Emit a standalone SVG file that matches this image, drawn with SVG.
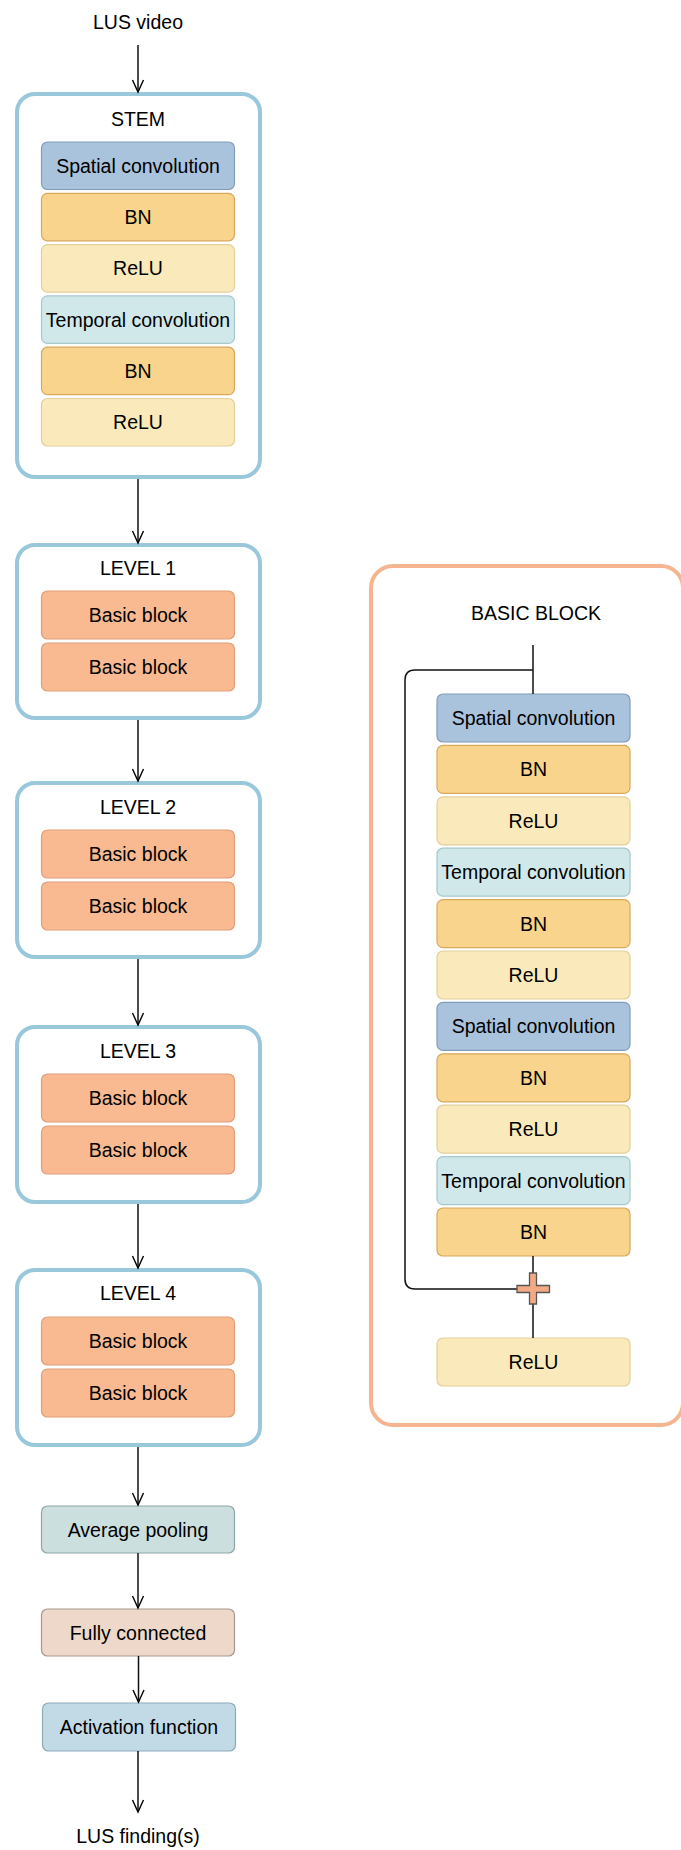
<svg xmlns="http://www.w3.org/2000/svg" width="681" height="1850" viewBox="0 0 681 1850">
  <defs>
    <marker id="arrow" viewBox="-14 -8 16 16" refX="0" refY="0" markerWidth="16" markerHeight="16" markerUnits="userSpaceOnUse" orient="auto">
      <path d="M-12,-5.5 L0,0 L-12,5.5" fill="none" stroke="#000" stroke-width="1.4"/>
    </marker>
    <style>
      text { font-family: "Liberation Sans", Arial, sans-serif; font-size: 19.5px; fill: #000; text-anchor: middle; }
      .stage { fill: #fff; stroke: #9ac8db; stroke-width: 4; }
      .detail { fill: #fff; stroke: #f4b590; stroke-width: 4; }
      .box { stroke-width: 1.2; }
      .spatial { fill: #aac3dd; stroke: #829dba; }
      .bn { fill: #f9d48c; stroke: #d9a85a; }
      .relu { fill: #faeabb; stroke: #e2d09a; }
      .temporal { fill: #d1e8ea; stroke: #a6c7cb; }
      .basic { fill: #f9ba91; stroke: #e09f7a; }
      .pool { fill: #cbdfdf; stroke: #8fa6a6; }
      .fc { fill: #edd8c9; stroke: #a8978b; }
      .act { fill: #c1dae6; stroke: #8eaab9; }
      .wire { fill: none; stroke: #111; stroke-width: 1.5; }
      .plus { fill: #f2aa85; stroke: #555; stroke-width: 1.3; }
    </style>
  </defs>

  <!-- input / output labels -->
  <text id="input-label" x="138" y="29">LUS video</text>
  <text id="output-label" x="138" y="1843">LUS finding(s)</text>

  <!-- stem -->
  <g id="stem">
    <rect class="stage" x="17" y="94" width="243" height="383" rx="18"/>
    <text x="138" y="125.5">STEM</text>
    <rect class="box spatial" x="41.5" y="142" width="193" height="47.5" rx="6"/>
    <text x="138" y="172.5">Spatial convolution</text>
    <rect class="box bn" x="41.5" y="193.3" width="193" height="47.5" rx="6"/>
    <text x="138" y="224">BN</text>
    <rect class="box relu" x="41.5" y="244.6" width="193" height="47.5" rx="6"/>
    <text x="138" y="275.3">ReLU</text>
    <rect class="box temporal" x="41.5" y="295.9" width="193" height="47.5" rx="6"/>
    <text x="138" y="326.5">Temporal convolution</text>
    <rect class="box bn" x="41.5" y="347.2" width="193" height="47.5" rx="6"/>
    <text x="138" y="377.9">BN</text>
    <rect class="box relu" x="41.5" y="398.5" width="193" height="47.5" rx="6"/>
    <text x="138" y="429.2">ReLU</text>
  </g>

  <!-- residual levels -->
  <g id="level1">
    <rect class="stage" x="17" y="545" width="243" height="173" rx="18"/>
    <text x="138" y="575">LEVEL 1</text>
    <rect class="box basic" x="41.5" y="591" width="193" height="48" rx="6"/>
    <text x="138" y="622">Basic block</text>
    <rect class="box basic" x="41.5" y="643" width="193" height="48" rx="6"/>
    <text x="138" y="674">Basic block</text>
  </g>
  <g id="level2">
    <rect class="stage" x="17" y="783" width="243" height="174" rx="18"/>
    <text x="138" y="814">LEVEL 2</text>
    <rect class="box basic" x="41.5" y="830" width="193" height="48" rx="6"/>
    <text x="138" y="861">Basic block</text>
    <rect class="box basic" x="41.5" y="882" width="193" height="48" rx="6"/>
    <text x="138" y="913">Basic block</text>
  </g>
  <g id="level3">
    <rect class="stage" x="17" y="1027" width="243" height="175" rx="18"/>
    <text x="138" y="1057.5">LEVEL 3</text>
    <rect class="box basic" x="41.5" y="1074" width="193" height="48" rx="6"/>
    <text x="138" y="1105">Basic block</text>
    <rect class="box basic" x="41.5" y="1126" width="193" height="48" rx="6"/>
    <text x="138" y="1157">Basic block</text>
  </g>
  <g id="level4">
    <rect class="stage" x="17" y="1270" width="243" height="175" rx="18"/>
    <text x="138" y="1300">LEVEL 4</text>
    <rect class="box basic" x="41.5" y="1317" width="193" height="48" rx="6"/>
    <text x="138" y="1348">Basic block</text>
    <rect class="box basic" x="41.5" y="1369" width="193" height="48" rx="6"/>
    <text x="138" y="1400">Basic block</text>
  </g>

  <!-- head -->
  <g id="avg-pool">
    <rect class="box pool" x="41.5" y="1506" width="193" height="47" rx="6"/>
    <text x="138" y="1536.5">Average pooling</text>
  </g>
  <g id="fully-connected">
    <rect class="box fc" x="41.5" y="1609" width="193" height="47" rx="6"/>
    <text x="138" y="1639.5">Fully connected</text>
  </g>
  <g id="activation">
    <rect class="box act" x="42.5" y="1703" width="193" height="48" rx="6"/>
    <text x="139" y="1734">Activation function</text>
  </g>

  <!-- basic block detail -->
  <g id="basic-block">
    <rect class="detail" x="371" y="566" width="312" height="859" rx="22"/>
    <text x="536" y="620">BASIC BLOCK</text>
    <rect class="box spatial" x="437" y="694" width="193" height="48" rx="6"/>
    <text x="533.5" y="725">Spatial convolution</text>
    <rect class="box bn" x="437" y="745.4" width="193" height="48" rx="6"/>
    <text x="533.5" y="776.4">BN</text>
    <rect class="box relu" x="437" y="796.8" width="193" height="48" rx="6"/>
    <text x="533.5" y="827.8">ReLU</text>
    <rect class="box temporal" x="437" y="848.2" width="193" height="48" rx="6"/>
    <text x="533.5" y="879.2">Temporal convolution</text>
    <rect class="box bn" x="437" y="899.6" width="193" height="48" rx="6"/>
    <text x="533.5" y="930.6">BN</text>
    <rect class="box relu" x="437" y="951" width="193" height="48" rx="6"/>
    <text x="533.5" y="982">ReLU</text>
    <rect class="box spatial" x="437" y="1002.4" width="193" height="48" rx="6"/>
    <text x="533.5" y="1033.4">Spatial convolution</text>
    <rect class="box bn" x="437" y="1053.8" width="193" height="48" rx="6"/>
    <text x="533.5" y="1084.8">BN</text>
    <rect class="box relu" x="437" y="1105.2" width="193" height="48" rx="6"/>
    <text x="533.5" y="1136.2">ReLU</text>
    <rect class="box temporal" x="437" y="1156.6" width="193" height="48" rx="6"/>
    <text x="533.5" y="1187.6">Temporal convolution</text>
    <rect class="box bn" x="437" y="1208" width="193" height="48" rx="6"/>
    <text x="533.5" y="1239">BN</text>
    <rect class="box relu" x="437" y="1338" width="193" height="48" rx="6"/>
    <text x="533.5" y="1369">ReLU</text>
  </g>

  <!-- connectors -->
  <g id="connectors">
    <line class="wire" x1="138" y1="45" x2="138" y2="92" marker-end="url(#arrow)"/>
    <line class="wire" x1="138" y1="479" x2="138" y2="543" marker-end="url(#arrow)"/>
    <line class="wire" x1="138" y1="720" x2="138" y2="781" marker-end="url(#arrow)"/>
    <line class="wire" x1="138" y1="959" x2="138" y2="1025" marker-end="url(#arrow)"/>
    <line class="wire" x1="138" y1="1204" x2="138" y2="1268" marker-end="url(#arrow)"/>
    <line class="wire" x1="138" y1="1447" x2="138" y2="1505" marker-end="url(#arrow)"/>
    <line class="wire" x1="138" y1="1553" x2="138" y2="1608" marker-end="url(#arrow)"/>
    <line class="wire" x1="138.5" y1="1656" x2="138.5" y2="1702" marker-end="url(#arrow)"/>
    <line class="wire" x1="138" y1="1751" x2="138" y2="1812" marker-end="url(#arrow)"/>
    <!-- main path through the basic block -->
    <line class="wire" x1="533" y1="645" x2="533" y2="694"/>
    <line class="wire" x1="533" y1="1256" x2="533" y2="1273"/>
    <line class="wire" x1="533" y1="1304" x2="533" y2="1338"/>
    <!-- identity shortcut -->
    <path class="wire" d="M533,670 H415 Q405,670 405,680 V1279 Q405,1289 415,1289 H517"/>
    <!-- element-wise sum -->
    <path id="sum" class="plus" d="M529.5,1273 H536.5 V1285.5 H549.5 V1292.5 H536.5 V1304 H529.5 V1292.5 H517 V1285.5 H529.5 Z"/>
  </g>
</svg>
